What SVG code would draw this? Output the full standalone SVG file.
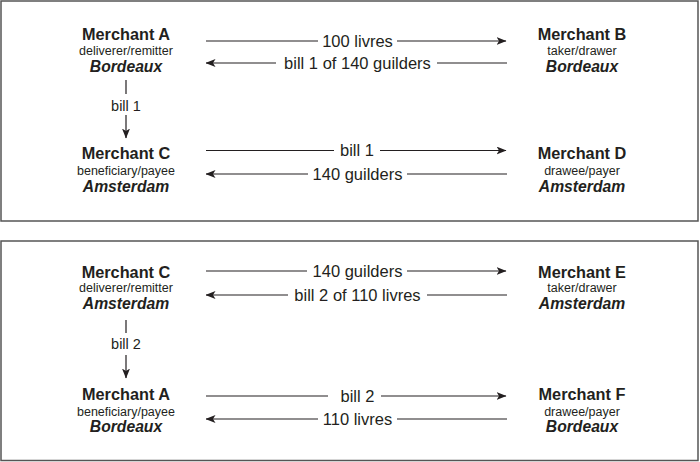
<svg xmlns="http://www.w3.org/2000/svg" width="700" height="462" viewBox="0 0 700 462">
<defs>
<marker id="ah" markerWidth="10" markerHeight="8" refX="9.5" refY="4" orient="auto" markerUnits="userSpaceOnUse">
<path d="M0,0 L10,4 L0,8 L2.5,4 z" fill="#231f20"/>
</marker>
<style>
.box{fill:#fff;stroke:#555;stroke-width:1.5}
text{font-family:"Liberation Sans",Arial,sans-serif;fill:#231f20;text-anchor:middle}
.nm{font-size:16.3px;font-weight:bold}
.rl{font-size:12.5px}
.ct{font-size:15.7px;font-weight:bold;font-style:italic}
.lb{font-size:16.5px}
.vl{font-size:14.5px}
.ln{stroke:#231f20;stroke-width:1.2;fill:none}
.ar{stroke:#231f20;stroke-width:1.2;fill:none;marker-end:url(#ah)}
</style>
</defs>
<rect class="box" x="1" y="1" width="697" height="220"/>
<rect class="box" x="1" y="241" width="697" height="219.5"/>

<g id="merchantA1"><text class="nm" x="126" y="40">Merchant A</text><text class="rl" x="126" y="55">deliverer/remitter</text><text class="ct" x="126" y="72">Bordeaux</text></g>
<g id="merchantB"><text class="nm" x="582" y="40">Merchant B</text><text class="rl" x="582" y="55">taker/drawer</text><text class="ct" x="582" y="72">Bordeaux</text></g>
<g id="merchantC1"><text class="nm" x="126" y="159">Merchant C</text><text class="rl" x="126" y="175">beneficiary/payee</text><text class="ct" x="126" y="191.5">Amsterdam</text></g>
<g id="merchantD"><text class="nm" x="582" y="158.5">Merchant D</text><text class="rl" x="582" y="174.5">drawee/payer</text><text class="ct" x="582" y="191.5">Amsterdam</text></g>

<g id="merchantC2"><text class="nm" x="126" y="277.5">Merchant C</text><text class="rl" x="126" y="292">deliverer/remitter</text><text class="ct" x="126" y="309">Amsterdam</text></g>
<g id="merchantE"><text class="nm" x="582" y="277.5">Merchant E</text><text class="rl" x="582" y="292">taker/drawer</text><text class="ct" x="582" y="309">Amsterdam</text></g>
<g id="merchantA2"><text class="nm" x="126" y="400">Merchant A</text><text class="rl" x="126" y="415.5">beneficiary/payee</text><text class="ct" x="126" y="431.5">Bordeaux</text></g>
<g id="merchantF"><text class="nm" x="582" y="400">Merchant F</text><text class="rl" x="582" y="415.5">drawee/payer</text><text class="ct" x="582" y="431.5">Bordeaux</text></g>

<g id="connectors">
<!-- top row 1 -->
<line class="ln" x1="206" y1="41" x2="318" y2="41"/><line class="ar" x1="397" y1="41" x2="506" y2="41"/>
<text class="lb" x="357.5" y="46.5">100 livres</text>
<line class="ln" x1="507" y1="63" x2="437" y2="63"/><line class="ar" x1="276" y1="63" x2="206" y2="63"/>
<text class="lb" x="357.5" y="69">bill 1 of 140 guilders</text>
<!-- vertical 1 -->
<line class="ln" x1="126" y1="80" x2="126" y2="94"/>
<text class="vl" x="126" y="111">bill 1</text>
<line class="ar" x1="126" y1="115" x2="126" y2="138"/>
<!-- top row 2 -->
<line class="ln" x1="206" y1="150.5" x2="334" y2="150.5"/><line class="ar" x1="380" y1="150.5" x2="506" y2="150.5"/>
<text class="lb" x="357" y="156">bill 1</text>
<line class="ln" x1="507" y1="174" x2="407" y2="174"/><line class="ar" x1="308" y1="174" x2="206" y2="174"/>
<text class="lb" x="357.5" y="179.5">140 guilders</text>
<!-- bottom row 1 -->
<line class="ln" x1="206" y1="271" x2="307" y2="271"/><line class="ar" x1="407" y1="271" x2="506" y2="271"/>
<text class="lb" x="357.5" y="277">140 guilders</text>
<line class="ln" x1="507" y1="295" x2="427" y2="295"/><line class="ar" x1="288" y1="295" x2="206" y2="295"/>
<text class="lb" x="357.5" y="301">bill 2 of 110 livres</text>
<!-- vertical 2 -->
<line class="ln" x1="126" y1="320" x2="126" y2="333"/>
<text class="vl" x="126" y="349">bill 2</text>
<line class="ar" x1="126" y1="355" x2="126" y2="378"/>
<!-- bottom row 2 -->
<line class="ln" x1="206" y1="396" x2="328" y2="396"/><line class="ar" x1="381" y1="396" x2="506" y2="396"/>
<text class="lb" x="357.5" y="401.5">bill 2</text>
<line class="ln" x1="507" y1="419" x2="397" y2="419"/><line class="ar" x1="318" y1="419" x2="206" y2="419"/>
<text class="lb" x="357.5" y="425">110 livres</text>
</g>
</svg>
